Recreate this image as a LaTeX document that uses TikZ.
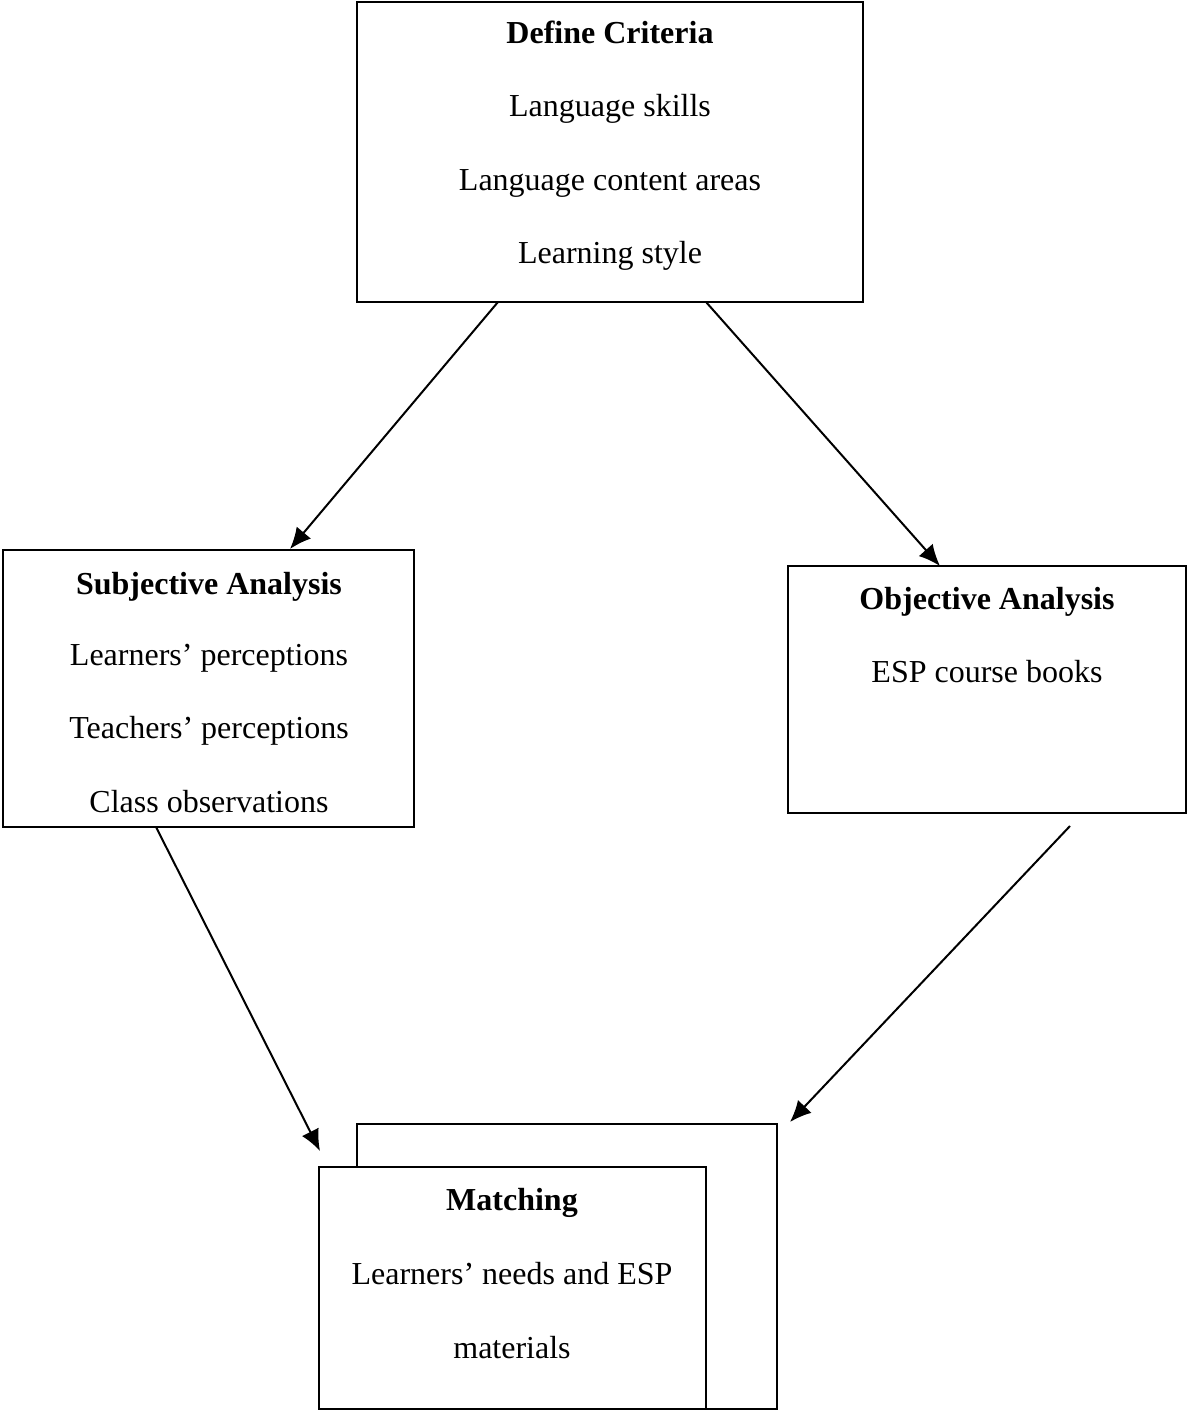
\documentclass[tikz,border=0pt]{standalone}
\usepackage{fontspec}
\setmainfont{Liberation Serif}
\usetikzlibrary{arrows.meta,fit}
\tikzset{
  box/.style={draw, line width=0.75pt, inner sep=0pt},
  head/.style={font=\fontsize{12}{14}\selectfont\bfseries, anchor=base},
  item/.style={font=\fontsize{12}{14}\selectfont, anchor=base},
}
\begin{document}
\begin{tikzpicture}[x=0.375pt,y=-0.375pt,>={Latex[length=8pt,width=7pt]},line width=0.75pt]
\useasboundingbox (0,0) rectangle (1189,1412);
% boxes
\node[box,fit={(357,2) (863,302)}] (crit) {};
\node[box,fit={(3,550) (414,827)}] (subj) {};
\node[box,fit={(788,566) (1186,813)}] (obj) {};
\node[box,fit={(357,1124) (777,1409)}] (matchback) {};
\node[box,fill=white,fit={(319,1167) (706,1409)}] (match) {};

% texts
\node[head] (critT) at (610,44) {Define Criteria};
\node[item] (critA) at (610,117) {Language skills};
\node[item] (critB) at (610,191) {Language content areas};
\node[item] (critC) at (610,264) {Learning style};

\node[head] (subjT) at (209,594) {Subjective Analysis};
\node[item] (subjA) at (209,665) {Learners’ perceptions};
\node[item] (subjB) at (209,738) {Teachers’ perceptions};
\node[item] (subjC) at (209,812) {Class observations};

\node[head] (objT) at (987,609) {Objective Analysis};
\node[item] (objA) at (987,682) {ESP course books};

\node[head] (matchT) at (512,1210) {Matching};
\node[item] (matchA) at (512,1284) {Learners’ needs and ESP};
\node[item] (matchB) at (512,1358) {materials};

% arrows
\coordinate (critL) at (498,302);
\coordinate (critR) at (706,302);
\coordinate (subjIn) at (290,549);
\coordinate (objIn) at (940,566);
\coordinate (subjOut) at (156,827);
\coordinate (objOut) at (1070,826);
\coordinate (matchL) at (320,1151);
\coordinate (matchR) at (790,1122);
\draw[->] (critL)--(subjIn);
\draw[->] (critR)--(objIn);
\draw[->] (subjOut)--(matchL);
\draw[->] (objOut)--(matchR);
\end{tikzpicture}
\end{document}
